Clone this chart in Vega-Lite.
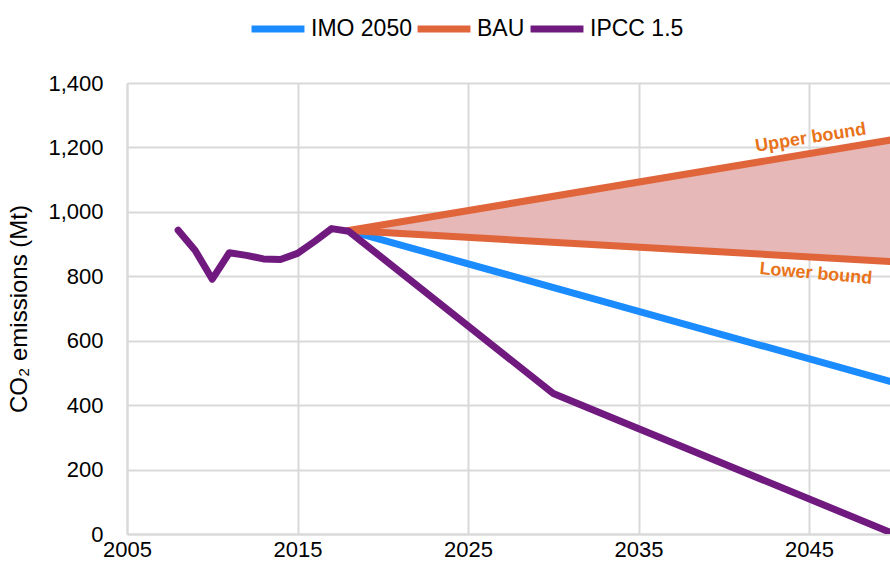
{
  "$schema": "https://vega.github.io/schema/vega-lite/v6.json",
  "autosize": {"type": "none"},
  "padding": {"left": 127, "top": 83, "right": 0, "bottom": 38},
  "width": 763,
  "height": 451,
  "background": "white",
  "config": {
    "view": {"stroke": null},
    "font": "Liberation Sans",
    "axis": {"labelFont": "Liberation Sans", "titleFont": "Liberation Sans", "labelColor": "#000", "titleColor": "#000", "gridColor": "#D9D9D9", "gridWidth": 2, "domainColor": "#D9D9D9", "domainWidth": 2, "ticks": false, "labelFlush": false}
  },
  "datasets": {
    "lines": [
      {"year": 2018, "value": 942, "series": "IMO 2050", "line": "IMO"},
      {"year": 2050, "value": 470, "series": "IMO 2050", "line": "IMO"},
      {"year": 2018, "value": 942, "series": "BAU", "line": "BAU lower"},
      {"year": 2050, "value": 845, "series": "BAU", "line": "BAU lower"},
      {"year": 2018, "value": 942, "series": "BAU", "line": "BAU upper"},
      {"year": 2050, "value": 1225, "series": "BAU", "line": "BAU upper"},
      {"year": 2008, "value": 943, "series": "IPCC 1.5", "line": "IPCC"},
      {"year": 2009, "value": 880, "series": "IPCC 1.5", "line": "IPCC"},
      {"year": 2010, "value": 791, "series": "IPCC 1.5", "line": "IPCC"},
      {"year": 2011, "value": 873, "series": "IPCC 1.5", "line": "IPCC"},
      {"year": 2012, "value": 865, "series": "IPCC 1.5", "line": "IPCC"},
      {"year": 2013, "value": 854, "series": "IPCC 1.5", "line": "IPCC"},
      {"year": 2014, "value": 852, "series": "IPCC 1.5", "line": "IPCC"},
      {"year": 2015, "value": 871, "series": "IPCC 1.5", "line": "IPCC"},
      {"year": 2016, "value": 908, "series": "IPCC 1.5", "line": "IPCC"},
      {"year": 2017, "value": 948, "series": "IPCC 1.5", "line": "IPCC"},
      {"year": 2018, "value": 940, "series": "IPCC 1.5", "line": "IPCC"},
      {"year": 2030, "value": 436, "series": "IPCC 1.5", "line": "IPCC"},
      {"year": 2050, "value": 0, "series": "IPCC 1.5", "line": "IPCC"}
    ],
    "band": [
      {"year": 2018, "lower": 942, "upper": 942},
      {"year": 2050, "lower": 845, "upper": 1225}
    ]
  },
  "layer": [
    {
      "data": {"name": "band"},
      "mark": {"type": "area", "color": "#E6B8B7", "clip": true},
      "encoding": {
        "x": {"field": "year", "type": "quantitative", "scale": {"domain": [2005, 2049.75], "nice": false, "zero": false},
          "axis": {"values": [2005, 2015, 2025, 2035, 2045], "format": "d", "title": null, "labelFontSize": 22, "labelPadding": 5, "grid": true}},
        "y": {"field": "lower", "type": "quantitative", "scale": {"domain": [0, 1400], "nice": false},
          "axis": {"values": [0, 200, 400, 600, 800, 1000, 1200, 1400], "format": ",d", "title": "CO₂ emissions (Mt)", "titleFontSize": 24, "titleFontWeight": "normal", "labelFontSize": 22, "labelPadding": 24, "titlePadding": 16, "grid": true}},
        "y2": {"field": "upper"}
      }
    },
    {
      "data": {"name": "lines"},
      "mark": {"type": "line", "strokeWidth": 7, "strokeCap": "round", "strokeJoin": "round", "clip": true},
      "encoding": {
        "x": {"field": "year", "type": "quantitative"},
        "y": {"field": "value", "type": "quantitative"},
        "detail": {"field": "line"},
        "color": {"field": "series", "type": "nominal",
          "scale": {"domain": ["IMO 2050", "BAU", "IPCC 1.5"], "range": ["#1A8CFF", "#E0653A", "#701A7F"]},
          "legend": {"title": null, "orient": "none", "legendX": 121, "legendY": -84, "direction": "horizontal", "symbolType": "stroke", "symbolSize": 2800, "symbolStrokeWidth": 7, "labelFontSize": 23, "labelFont": "Liberation Sans", "labelColor": "#000", "labelOffset": 3, "columnPadding": -9, "symbolOffset": 0}
        }
      }
    },
    {
      "data": {"values": [{"year": 2045.1, "value": 1229, "label": "Upper bound"}]},
      "mark": {"type": "text", "angle": 351, "fontSize": 18, "fontWeight": "bold", "color": "#E8731A", "font": "Liberation Sans"},
      "encoding": {"x": {"field": "year", "type": "quantitative"}, "y": {"field": "value", "type": "quantitative"}, "text": {"field": "label"}}
    },
    {
      "data": {"values": [{"year": 2045.4, "value": 807, "label": "Lower bound"}]},
      "mark": {"type": "text", "angle": 5, "fontSize": 18, "fontWeight": "bold", "color": "#E8731A", "font": "Liberation Sans"},
      "encoding": {"x": {"field": "year", "type": "quantitative"}, "y": {"field": "value", "type": "quantitative"}, "text": {"field": "label"}}
    }
  ]
}
